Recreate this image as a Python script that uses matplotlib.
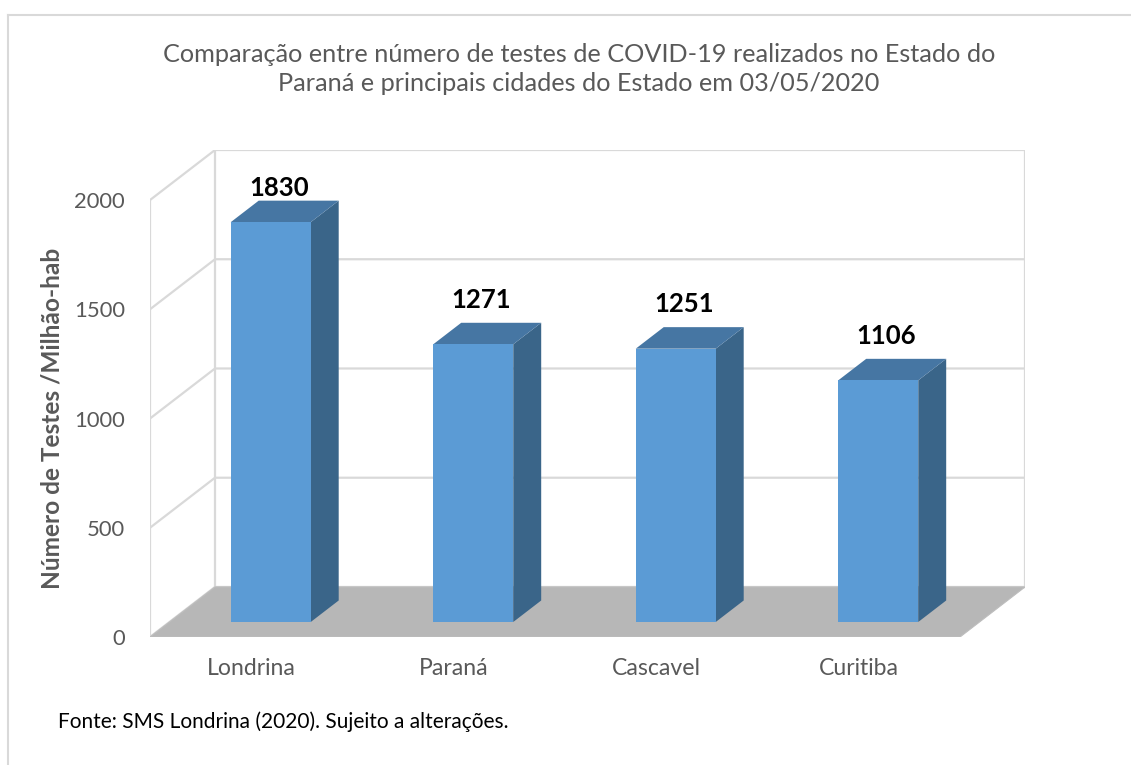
import matplotlib
matplotlib.use("Agg")
import matplotlib.pyplot as plt
from matplotlib.patches import Polygon

plt.rcParams['font.family'] = ['Lato', 'DejaVu Sans']

categories = ['Londrina', 'Paraná', 'Cascavel', 'Curitiba']
values = [1830, 1271, 1251, 1106]
yticks = [0, 500, 1000, 1500, 2000]

title = ('Comparação entre número de testes de COVID-19 realizados no Estado do\n'
         'Paraná e principais cidades do Estado em 03/05/2020')
ylabel = 'Número de Testes /Milhão-hab'
source = 'Fonte: SMS Londrina (2020). Sujeito a alterações.'

# fake 3d: depth offset of the back wall in data units
DX = 0.321
DY = 229
z0, z1 = 0.30, 0.73   # bar front / back depth
bw = 0.395

grid_c = '#d9d9d9'
text_c = '#595959'

W, H = 1131, 765
fig = plt.figure(figsize=(W / 100, H / 100), dpi=100)
ax = fig.add_axes([150 / W, (H - 637) / H, 875 / W, 487 / H])
ax.set_xlim(-0.5, len(categories) - 0.5 + DX)
ax.set_ylim(0, yticks[-1] + DY)
for s in ax.spines.values():
    s.set_visible(False)

x0 = -0.5
x1 = len(categories) - 0.5

# walls
ax.plot([x0, x0], [0, yticks[-1]], color=grid_c, lw=1.6, zorder=1)
ax.plot([x0 + DX, x0 + DX], [DY, yticks[-1] + DY], color=grid_c, lw=1.6, zorder=1)
ax.plot([x1 + DX, x1 + DX], [DY, yticks[-1] + DY], color=grid_c, lw=1.6, zorder=1)
for v in yticks:
    ax.plot([x0, x0 + DX, x1 + DX], [v, v + DY, v + DY], color=grid_c, lw=1.6, zorder=1)

# floor
floor = Polygon([(x0, 0), (x1, 0), (x1 + DX, DY), (x0 + DX, DY)],
                closed=True, facecolor='#b7b7b7', edgecolor='#bdbdbd', lw=0.8, zorder=2)
ax.add_patch(floor)

# bars
xs = list(range(len(categories)))
fx = [x + z0 * DX for x in xs]
ax.bar(fx, values, width=bw, bottom=z0 * DY, color='#5b9bd5', zorder=4)
ddx = (z1 - z0) * DX
ddy = (z1 - z0) * DY
for xc, v in zip(fx, values):
    xl, xr = xc - bw / 2, xc + bw / 2
    yb, yt = z0 * DY, v + z0 * DY
    side = Polygon([(xr, yb), (xr, yt), (xr + ddx, yt + ddy), (xr + ddx, yb + ddy)],
                   closed=True, facecolor='#3a6589', edgecolor='none', zorder=3)
    top = Polygon([(xl, yt), (xr, yt), (xr + ddx, yt + ddy), (xl + ddx, yt + ddy)],
                  closed=True, facecolor='#4676a3', edgecolor='none', zorder=3)
    ax.add_patch(side)
    ax.add_patch(top)
    ly = min(yt + ddy + 50, yticks[-1])
    ax.text(xc + 0.04, ly, str(v), ha='center', va='bottom', fontsize=18.5,
            fontweight='bold', color='black', zorder=5)

ax.set_yticks(yticks)
ax.set_yticklabels([str(t) for t in yticks], fontsize=15.8, color=text_c)
ax.set_xticks(xs)
ax.set_xticklabels(categories, fontsize=16.6, color=text_c)
ax.tick_params(axis='y', length=0, pad=18)
ax.tick_params(axis='x', length=0, pad=15)

fig.text(579 / W, 1 - 69 / H, title, ha='center', va='center',
         fontsize=18.2, color=text_c, linespacing=1.35)
fig.text(52 / W, 1 - 418 / H, ylabel, rotation=90, ha='center', va='center',
         fontsize=17.6, fontweight='bold', color=text_c)
fig.text(58 / W, 1 - 722 / H, source, ha='left', va='center', fontsize=15, color='black')

# outer chart border
fig.add_artist(plt.Line2D([8 / W, 8 / W], [0, 1 - 15 / H], color=grid_c, lw=1.5))
fig.add_artist(plt.Line2D([8 / W, 1], [1 - 15 / H, 1 - 15 / H], color=grid_c, lw=1.5))

fig.savefig('out.png', dpi=100)
